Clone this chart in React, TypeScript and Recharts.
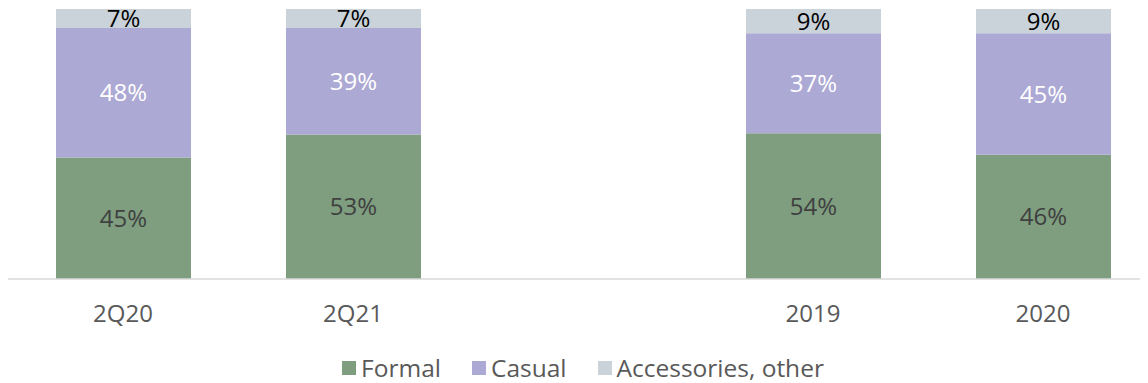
import React from "react";
import { BarChart, Bar, XAxis, YAxis, LabelList } from "recharts";

const categories = ["2Q20", "2Q21", "", "2019", "2020"];
const formal = [45, 53, null, 54, 46];
const casual = [48, 39, null, 37, 45];
const accessories = [7, 7, null, 9, 9];

const seriesNames = ["Formal", "Casual", "Accessories, other"];
const seriesColors = ["#7E9E7F", "#ACA9D4", "#CAD3D9"];
const labelColors = ["#404040", "#FFFFFF", "#000000"];

const data = categories.map((c, i) => ({
  cat: c,
  formal: formal[i],
  casual: casual[i],
  accessories: accessories[i],
}));

const FONT = "'Open Sans', 'Noto Sans', sans-serif";

const fmt = (v: any) => (v === null || v === undefined ? "" : `${v}%`);

const LegendBox = () => (
  <div
    style={{
      position: "absolute",
      top: 345,
      left: 0,
      width: 1150,
      height: 30,
      display: "flex",
      justifyContent: "center",
      alignItems: "center",
      fontFamily: FONT,
      fontSize: 24.5,
      lineHeight: "30px",
      color: "#595959",
    }}
  >
    {seriesNames.map((n, i) => (
      <div
        key={n}
        style={{ display: "flex", alignItems: "center", marginRight: i < seriesNames.length - 1 ? 31 : 0 }}
      >
        <span
          style={{
            display: "inline-block",
            width: 14,
            height: 14,
            background: seriesColors[i],
            marginRight: 5,
          }}
        />
        <span>{n}</span>
      </div>
    ))}
  </div>
);

export default function App() {
  const keys = ["formal", "casual", "accessories"];
  return (
    <div style={{ width: 1140, height: 375, overflow: "hidden", position: "relative" }}>
      <BarChart
        width={1150}
        height={340}
        data={data}
        stackOffset="expand"
        margin={{ top: 1, right: 0, left: 0, bottom: 9 }}
      >
        <XAxis
          dataKey="cat"
          axisLine={{ stroke: "#D9D9D9", strokeWidth: 1.5 }}
          tickLine={false}
          tickSize={0}
          tickMargin={26}
          interval={0}
          height={60}
          tick={{ fill: "#595959", fontSize: 24, fontFamily: FONT }}
        />
        <YAxis hide domain={[0, 1]} />
        {keys.map((k, i) => (
          <Bar
            key={k}
            dataKey={k}
            name={seriesNames[i]}
            stackId="a"
            fill={seriesColors[i]}
            barSize={135}
            isAnimationActive={false}
          >
            <LabelList
              dataKey={k}
              position="center"
              formatter={fmt}
              fill={labelColors[i]}
              style={{ fontSize: 24, fontFamily: FONT }}
            />
          </Bar>
        ))}
      </BarChart>
      <LegendBox />
    </div>
  );
}
